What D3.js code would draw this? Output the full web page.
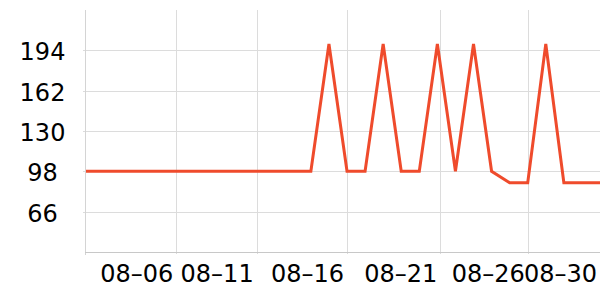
<!DOCTYPE html>
<html>
<head>
<meta charset="utf-8">
<script src="https://cdn.jsdelivr.net/npm/d3@7"></script>
<style>
  body { margin: 0; background: #fff; }
  text { font-family: "DejaVu Sans", sans-serif; fill: #000; }
</style>
</head>
<body>
<div id="chart"></div>
<script>
// daily readings, 2023-08-01 .. 2023-08-30
var days = ["08-01", "08-02", "08-03", "08-04", "08-05", "08-06", "08-07", "08-08",
            "08-09", "08-10", "08-11", "08-12", "08-13", "08-14", "08-15", "08-16",
            "08-17", "08-18", "08-19", "08-20", "08-21", "08-22", "08-23", "08-24",
            "08-25", "08-26", "08-27", "08-28", "08-29", "08-30"];
var values = [98, 98, 98, 98, 98, 98, 98, 98, 98, 98, 98, 98, 98, 98, 199, 98,
              98, 199, 98, 98, 199, 98, 199, 98, 89, 89, 199, 89, 89, 89];

var xTicks = ["2023-08-06T13:20", "2023-08-11T00:00", "2023-08-16T00:00",
              "2023-08-21T04:00", "2023-08-26T00:00", "2023-08-30T00:00"];
var yTicks = [66, 98, 130, 162, 194];

var width = 600, height = 300;
var margin = {top: 10, right: 0, bottom: 48, left: 86};

var parse = d3.utcParse("%Y-%m-%dT%H:%M");
var fmt = d3.utcFormat("%m–%d");

var data = days.map(function(d, i) {
    return {date: parse("2023-" + d + "T00:00"), val: values[i]};
});

var x = d3.scaleUtc()
    .domain([parse("2023-08-01T13:20"), parse("2023-08-30T00:00")])
    .range([margin.left, width - margin.right]);
var y = d3.scaleLinear()
    .domain([34, 226])
    .range([height - margin.bottom, margin.top]);

var svg = d3.select("#chart").append("svg")
    .attr("width", width)
    .attr("height", height);

svg.append("clipPath").attr("id", "plot")
    .append("rect")
    .attr("x", margin.left)
    .attr("y", margin.top - 2)
    .attr("width", width - margin.left - margin.right)
    .attr("height", height - margin.top - margin.bottom + 4);

var xt = xTicks.map(function(s) { return parse(s); });

// vertical grid
svg.append("g")
    .attr("clip-path", "url(#plot)")
    .selectAll("line")
    .data(xt)
    .enter().append("line")
    .attr("x1", function(d) { return Math.round(x(d)) + 0.5; })
    .attr("x2", function(d) { return Math.round(x(d)) + 0.5; })
    .attr("y1", margin.top)
    .attr("y2", height - margin.bottom + 3)
    .attr("stroke", "#dcdcdc");

// horizontal grid
svg.append("g")
    .selectAll("line")
    .data(yTicks)
    .enter().append("line")
    .attr("x1", margin.left - 3)
    .attr("x2", width)
    .attr("y1", function(d) { return Math.round(y(d)) + 0.5; })
    .attr("y2", function(d) { return Math.round(y(d)) + 0.5; })
    .attr("stroke", "#dcdcdc");

// axis lines
svg.append("line")
    .attr("x1", margin.left - 0.5).attr("x2", margin.left - 0.5)
    .attr("y1", margin.top).attr("y2", height - margin.bottom + 3)
    .attr("stroke", "#d4d4d4");
svg.append("line")
    .attr("x1", margin.left - 1).attr("x2", width)
    .attr("y1", Math.round(y(34)) + 0.5).attr("y2", Math.round(y(34)) + 0.5)
    .attr("stroke", "#c8c8c8");

// y labels
svg.append("g")
    .selectAll("text")
    .data(yTicks)
    .enter().append("text")
    .attr("x", 42.5)
    .attr("y", function(d) { return y(d) + 10; })
    .attr("text-anchor", "middle")
    .style("font-size", "24px")
    .text(function(d) { return d; });

// x labels
svg.append("g")
    .selectAll("text")
    .data(xt)
    .enter().append("text")
    .attr("x", function(d) { return x(d) - 3; })
    .attr("y", 281.5)
    .attr("text-anchor", "end")
    .style("font-size", "24px")
    .text(function(d) { return fmt(d); });

var line = d3.line()
    .x(function(d) { return x(d.date); })
    .y(function(d) { return y(d.val); });

svg.append("path")
    .datum(data)
    .attr("clip-path", "url(#plot)")
    .attr("d", line)
    .attr("fill", "none")
    .attr("stroke", "#ef4b2c")
    .attr("stroke-width", 3)
    .attr("stroke-linejoin", "miter");
</script>
</body>
</html>
